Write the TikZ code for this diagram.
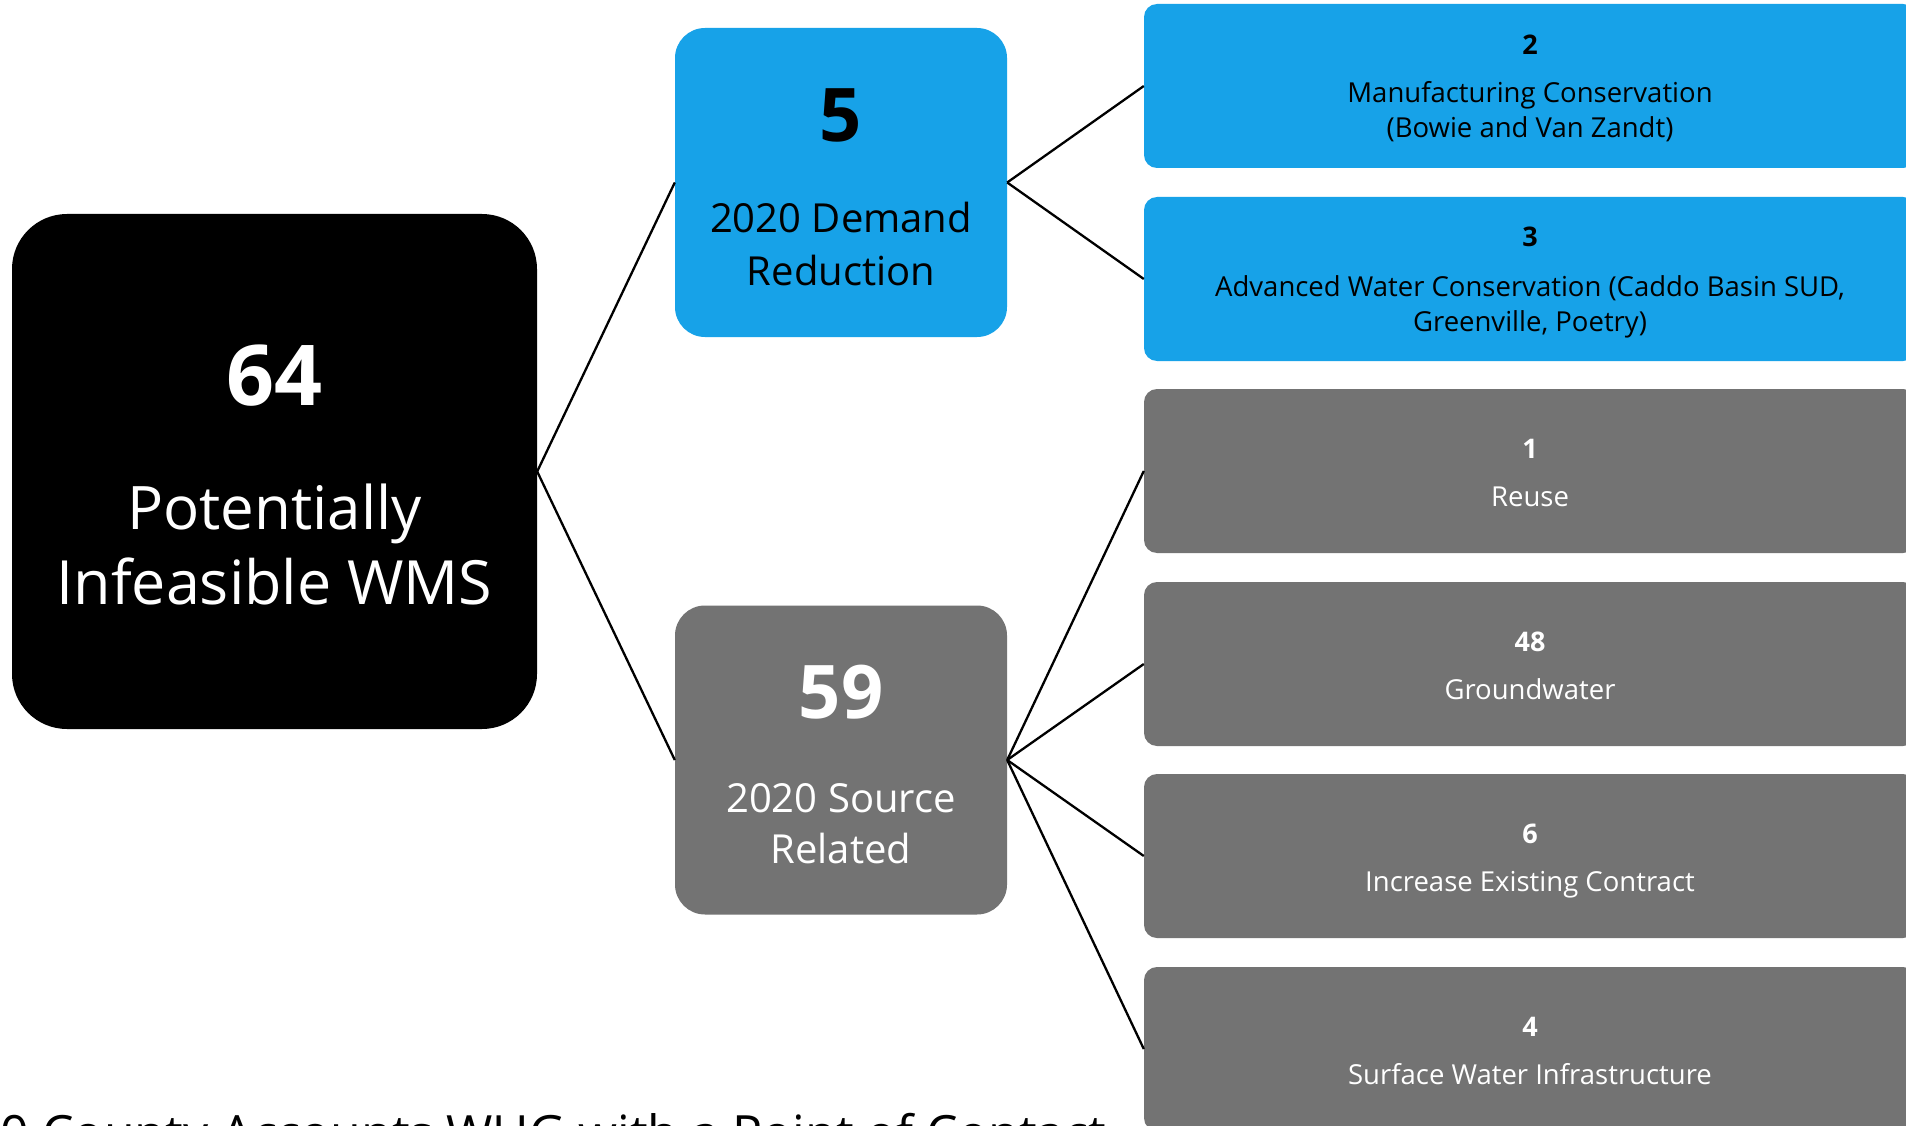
\documentclass[tikz,border=0pt]{standalone}
\usepackage{fontspec}
\setmainfont{Open Sans}
\definecolor{skyblue}{RGB}{23,162,232}
\definecolor{midgray}{RGB}{115,115,115}
\tikzset{
  rootbox/.style={fill=black, draw=none, rounded corners=55pt, minimum width=525pt, minimum height=515pt, inner sep=0pt},
  midbox/.style={draw=none, rounded corners=30pt, minimum width=332pt, minimum height=309pt, inner sep=0pt},
  leafbox/.style={draw=none, rounded corners=13pt, minimum width=772pt, minimum height=164pt, inner sep=0pt},
  lbl/.style={anchor=base, inner sep=0pt},
  conn/.style={draw=black, line width=2.3pt},
}
\begin{document}
\begin{tikzpicture}[x=1pt,y=-1pt]
\useasboundingbox (0,0) rectangle (1906,1126);
\clip (0,0) rectangle (1906,1126);
\fill[white] (0,0) rectangle (1906,1126);
% root
\node[rootbox] (root) at (274.5,471.5) {};
\node[lbl, white, font=\fontsize{84}{100}\selectfont\bfseries] (rootnum) at (274.5,405) {64};
\node[lbl, white, font=\fontsize{60}{72}\selectfont] (roota) at (274.5,529) {Potentially};
\node[lbl, white, font=\fontsize{61}{72}\selectfont] (rootb) at (274.5,604) {Infeasible WMS};
% middle boxes
\node[midbox, fill=skyblue] (dem) at (841,182.5) {};
\node[lbl, black, font=\fontsize{74}{88}\selectfont\bfseries] (demnum) at (841,142) {5};
\node[lbl, black, font=\fontsize{40}{48}\selectfont] (dema) at (841,233) {2020 Demand};
\node[lbl, black, font=\fontsize{40}{48}\selectfont] (demb) at (841,285) {Reduction};
\node[midbox, fill=midgray] (src) at (841,760) {};
\node[lbl, white, font=\fontsize{74}{88}\selectfont\bfseries] (srcnum) at (841,718) {59};
\node[lbl, white, font=\fontsize{40}{48}\selectfont] (srca) at (841,812) {2020 Source};
\node[lbl, white, font=\fontsize{40}{48}\selectfont] (srcb) at (841,863) {Related};
% leaves
\tikzset{num/.style={lbl, font=\fontsize{27}{32}\selectfont\bfseries}, txt/.style={lbl, font=\fontsize{27.5}{33}\selectfont}}
\node[leafbox, fill=skyblue] (l1) at (1530,86) {};
\node[num, black] (l1n) at (1530,55) {2};
\node[txt, black] (l1a) at (1530,103) {Manufacturing Conservation};
\node[txt, black] (l1b) at (1530,138) {(Bowie and Van Zandt)};
\node[leafbox, fill=skyblue] (l2) at (1530,279) {};
\node[num, black] (l2n) at (1530,247) {3};
\node[txt, black] (l2a) at (1530,296) {Advanced Water Conservation (Caddo Basin SUD,};
\node[txt, black] (l2b) at (1530,331) {Greenville, Poetry)};
\node[leafbox, fill=midgray] (l3) at (1530,471) {};
\node[num, white] (l3n) at (1530,458) {1};
\node[txt, white] (l3a) at (1530,506) {Reuse};
\node[leafbox, fill=midgray] (l4) at (1530,664) {};
\node[num, white] (l4n) at (1530,651) {48};
\node[txt, white] (l4a) at (1530,699) {Groundwater};
\node[leafbox, fill=midgray] (l5) at (1530,856) {};
\node[num, white] (l5n) at (1530,843) {6};
\node[txt, white] (l5a) at (1530,891) {Increase Existing Contract};
\node[leafbox, fill=midgray] (l6) at (1530,1049) {};
\node[num, white] (l6n) at (1530,1036) {4};
\node[txt, white] (l6a) at (1530,1084) {Surface Water Infrastructure};
% connectors
\draw[conn] (root.east) -- (dem.west);
\draw[conn] (root.east) -- (src.west);
\draw[conn] (dem.east) -- (l1.west);
\draw[conn] (dem.east) -- (l2.west);
\draw[conn] (src.east) -- (l3.west);
\draw[conn] (src.east) -- (l4.west);
\draw[conn] (src.east) -- (l5.west);
\draw[conn] (src.east) -- (l6.west);
% clipped caption
\node[anchor=base west, inner sep=0pt, font=\fontsize{50}{60}\selectfont] (caption) at (-28,1151) {20 County Accounts WUG with a Point of Contact};
\end{tikzpicture}
\end{document}
